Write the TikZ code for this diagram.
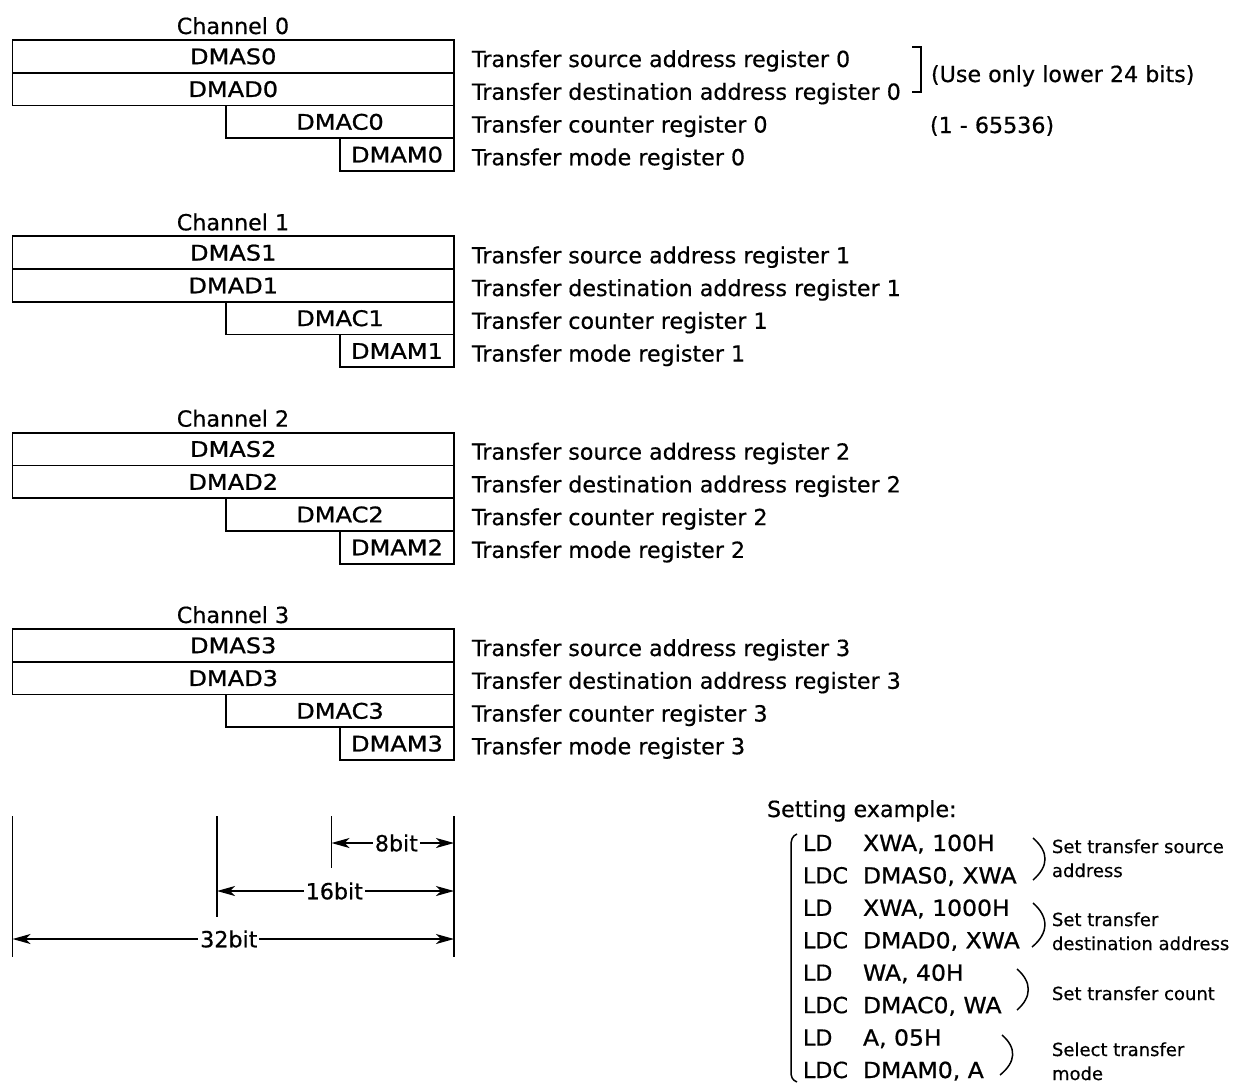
\documentclass[tikz,border=0pt]{standalone}
\usepackage{fontspec}
\setmainfont[FakeBold=0.5]{DejaVu Sans}
\newfontfamily\regfont[FakeStretch=1.12,FakeBold=1]{DejaVu Sans}
\newfontfamily\opfont[FakeStretch=1.06,FakeBold=0.8]{DejaVu Sans}
\usetikzlibrary{arrows.meta}
\begin{document}
\begin{tikzpicture}[x=1pt,y=-1pt,line width=1.8pt,
  every node/.style={inner sep=0pt,outer sep=0pt},
  big/.style={font=\fontsize{22.2}{25}\selectfont},
  small/.style={font=\fontsize{18}{24}\selectfont},
  reg/.style={font=\regfont\fontsize{21.5}{25}\selectfont,draw,minimum height=32.75pt,anchor=north west},
  desc/.style={big,anchor=base west},
  op/.style={font=\opfont\fontsize{22.2}{25}\selectfont,anchor=base west},
  note/.style={small,anchor=base west,align=left},
  dim/.style={{Stealth[length=18pt,width=10pt,inset=5pt]}-{Stealth[length=18pt,width=10pt,inset=5pt]}},
  dimlbl/.style={big,fill=white,inner xsep=2pt,inner ysep=3pt},
  tick/.style={line width=1.8pt}]
\useasboundingbox (0,0) rectangle (1236,1087);

% ---------- four channels ----------
\foreach \k in {0,1,2,3}{
  \pgfmathsetmacro{\yo}{40+196.33*\k}
  \node[big,anchor=base] (ch\k) at (233,\yo-6) {Channel \k};
  \node[reg,minimum width=441.5pt] (s\k) at (12.5,\yo) {DMAS\k};
  \node[reg,minimum width=441.5pt] (d\k) at (12.5,\yo+32.75) {DMAD\k};
  \node[reg,minimum width=228pt] (c\k) at (226,\yo+65.5) {DMAC\k};
  \node[reg,minimum width=114pt] (m\k) at (340,\yo+98.25) {DMAM\k};
  \node[desc] (ts\k) at (472,\yo+27) {Transfer source address register \k};
  \node[desc] (td\k) at (472,\yo+59.75) {Transfer destination address register \k};
  \node[desc] (tc\k) at (472,\yo+92.5) {Transfer counter register \k};
  \node[desc] (tm\k) at (472,\yo+125.25) {Transfer mode register \k};
}

% bracket and notes for channel 0
\draw (912,47) -- (921,47) -- (921,92) -- (912,92);
\node[desc] (n24) at (931,82) {(Use only lower 24 bits)};
\node[desc] (nrange) at (930,133) {(1 - 65536)};

% ---------- bit scale ----------
\coordinate (l32t) at (12.5,816);  \coordinate (l32b) at (12.5,957);
\coordinate (l16t) at (217,816);   \coordinate (l16b) at (217,917);
\coordinate (l8t)  at (331.5,816); \coordinate (l8b)  at (331.5,868);
\coordinate (rt)   at (454,816);   \coordinate (rb)   at (454,957);
\draw[tick] (l32t) -- (l32b);
\draw[tick] (l16t) -- (l16b);
\draw[tick] (l8t) -- (l8b);
\draw[tick] (rt) -- (rb);
\coordinate (a8l) at (331.5,843);  \coordinate (a8r) at (454,843);
\coordinate (a16l) at (217,891);   \coordinate (a16r) at (454,891);
\coordinate (a32l) at (12.5,939);  \coordinate (a32r) at (454,939);
\draw[dim,line width=1.4pt] (a8l) -- (a8r) node[dimlbl,pos=0.53] (b8) {8bit};
\draw[dim,line width=1.4pt] (a16l) -- (a16r) node[dimlbl,pos=0.495] (b16) {16bit};
\draw[dim,line width=1.4pt] (a32l) -- (a32r) node[dimlbl,pos=0.49] (b32) {32bit};

% ---------- setting example ----------
\node[desc] (se) at (767,817) {Setting example:};
\foreach \i/\mn/\op in {0/LD/{XWA, 100H},1/LDC/{DMAS0, XWA},2/LD/{XWA, 1000H},3/LDC/{DMAD0, XWA},
                       4/LD/{WA, 40H},5/LDC/{DMAC0, WA},6/LD/{A, 05H},7/LDC/{DMAM0, A}}{
  \node[desc] (mn\i) at (803,851+32.43*\i) {\mn};
  \node[op] (op\i) at (863,851+32.43*\i) {\op};
}
% big left brace
\draw[line width=1.5pt] (797,834) .. controls (792,836) and (791,840) .. (791,846) -- (791,1071)
      .. controls (791,1077) and (792,1080) .. (797,1082);
% right parentheses
\draw[line width=1.5pt] (1033,838) .. controls (1049,852) and (1049,866) .. (1033,880);
\draw[line width=1.5pt] (1033,903) .. controls (1049,917) and (1049,933) .. (1032,947);
\draw[line width=1.5pt] (1017,969) .. controls (1032,982) and (1032,997) .. (1017,1010);
\draw[line width=1.5pt] (1002,1035) .. controls (1017,1048) and (1016,1062) .. (1000,1075);
\node[note] (c1) at (1052,877) {Set transfer source\\address};
\node[note] (c2) at (1052,950) {Set transfer\\destination address};
\node[note] (c3) at (1052,1000) {Set transfer count};
\node[note] (c4) at (1052,1080) {Select transfer\\mode};
\end{tikzpicture}
\end{document}
